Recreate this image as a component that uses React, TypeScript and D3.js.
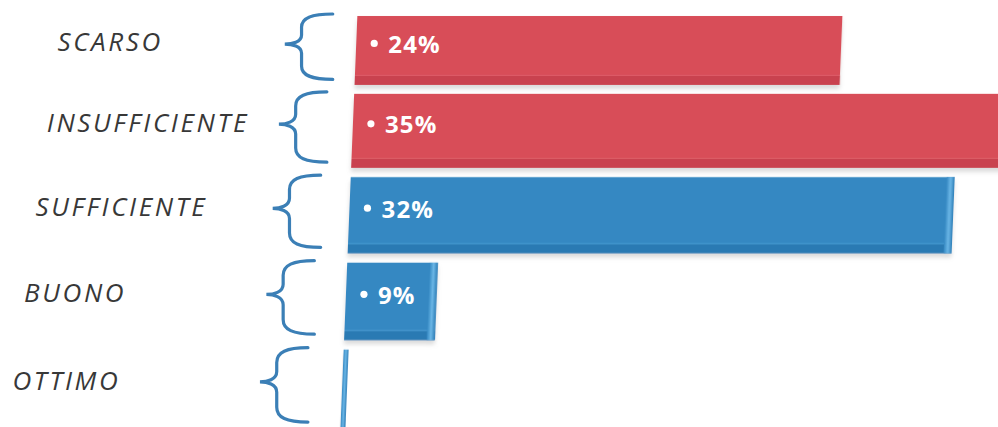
import React from "react";
import * as d3 from "d3";

const categories = ["SCARSO", "INSUFFICIENTE", "SUFFICIENTE", "BUONO", "OTTIMO"];
const percentLabels = [24, 35, 32, 9, 0];
// bar lengths as drawn in the picture, in the same percentage units
const barLengths = [25.7, 35.5, 32, 4.8, 0.25];
const barColors = ["red", "red", "blue", "blue", "blue"];

const W = 998;
const H = 427;

const palette: Record<string, { main: string; dark: string; light: string }> = {
  red: { main: "#d84d59", dark: "#c9434f", light: "#e36b74" },
  blue: { main: "#3488c2", dark: "#2c7ab3", light: "#5aa9dc" },
};

function bracePath(w: number, h: number) {
  const t = h * 0.46;
  const m = w * 0.35;
  return [
    `M ${w},0`,
    `C ${w * 0.55},0 ${m},${h * 0.06} ${m},${h * 0.2}`,
    `L ${m},${t - h * 0.14}`,
    `C ${m},${t - h * 0.03} ${w * 0.15},${t} 0,${t}`,
    `C ${w * 0.15},${t} ${m},${t + h * 0.03} ${m},${t + h * 0.14}`,
    `L ${m},${h * 0.8}`,
    `C ${m},${h * 0.94} ${w * 0.55},${h} ${w},${h}`,
  ].join(" ");
}

export default function App() {
  // band layout in unit space, then a mild perspective mapping to pixels
  const band = d3.scaleBand<string>().domain(categories).range([0, 1]).paddingInner(0.11).paddingOuter(0);
  const persp = d3.scalePow().exponent(1.05).domain([0, 1]).range([16, 428]);
  const top = (c: string) => persp(band(c) as number);
  const bottom = (c: string) => persp((band(c) as number) + band.bandwidth());
  const x = d3.scaleLinear().domain([0, 32]).range([0, 604]);

  const barSlope = -0.041;
  const barX0 = 358;
  const braceSlope = -0.0735;
  const braceX0 = 288;
  const labelSlope = -0.133;
  const labelX0 = 63;

  return (
    <svg
      width={W}
      height={H}
      style={{ position: "absolute", left: 0, top: 0, background: "#fff" }}
    >
      <defs>
        <filter id="shadow" x="-5%" y="-20%" width="110%" height="150%">
          <feDropShadow dx="0" dy="4" stdDeviation="2" floodColor="#888" floodOpacity="0.3" />
        </filter>
        <linearGradient id="edgeBlue" x1="0" x2="1" y1="0" y2="0">
          <stop offset="0" stopColor="#3488c2" />
          <stop offset="0.5" stopColor="#6bb6e6" />
          <stop offset="1" stopColor="#2e7fb8" />
        </linearGradient>
      </defs>

      {/* category labels */}
      {categories.map((c) => {
        const cy = (top(c) + bottom(c)) / 2 - 9;
        return (
          <text
            key={"l" + c}
            x={labelX0 + labelSlope * cy}
            y={cy}
            dominantBaseline="central"
            fontFamily="'Open Sans', sans-serif"
            fontStyle="italic"
            fontSize={26}
            letterSpacing={2.6}
            fill="#383838"
          >
            {c}
          </text>
        );
      })}

      {/* braces */}
      {categories.map((c) => {
        const t0 = top(c) - 2;
        const h = (bottom(c) - top(c)) * 0.95;
        const tipY = t0 + h * 0.46;
        const bx = braceX0 + braceSlope * tipY;
        return (
          <path
            key={"b" + c}
            d={bracePath(48, h)}
            transform={`translate(${bx},${t0})`}
            fill="none"
            stroke="#3b7fb6"
            strokeWidth={3.2}
            strokeLinecap="round"
          />
        );
      })}

      {/* bars */}
      <g transform={`translate(${barX0},0) skewX(${(Math.atan(barSlope) * 180) / Math.PI})`}>
        {categories.map((c, i) => {
          const t0 = top(c);
          const bh = bottom(c) - t0;
          const w = x(barLengths[i]);
          const col = palette[barColors[i]];
          const bevel = Math.min(8, w / 3);
          return (
            <g key={"r" + c} filter="url(#shadow)">
              <rect x={0} y={t0} width={w} height={bh} fill={col.main} />
              <rect x={0} y={t0 + bh - 9} width={w} height={9} fill={col.dark} />
              <rect x={0} y={t0 + bh - 10} width={w} height={1} fill={col.light} opacity={0.6} />
              {barColors[i] === "blue" && w > 20 && (
                <rect x={w - bevel} y={t0} width={bevel} height={bh} fill="url(#edgeBlue)" />
              )}
              {barColors[i] === "blue" && w <= 20 && (
                <rect x={0} y={t0} width={w} height={bh} fill="url(#edgeBlue)" />
              )}
            </g>
          );
        })}
      </g>

      {/* value labels */}
      {categories.map((c, i) => {
        if (percentLabels[i] === 0) return null;
        const cy = (top(c) + bottom(c)) / 2 - 7;
        const lx = barX0 + barSlope * cy;
        return (
          <g key={"v" + c}>
            <circle cx={lx + 18} cy={cy} r={3.6} fill="#fff" />
            <text
              x={lx + 32}
              y={cy}
              dominantBaseline="central"
              fontFamily="'Open Sans', sans-serif"
              fontWeight={700}
              fontSize={24}
              letterSpacing={1.2}
              fill="#fff"
            >
              {percentLabels[i] + "%"}
            </text>
          </g>
        );
      })}
    </svg>
  );
}
